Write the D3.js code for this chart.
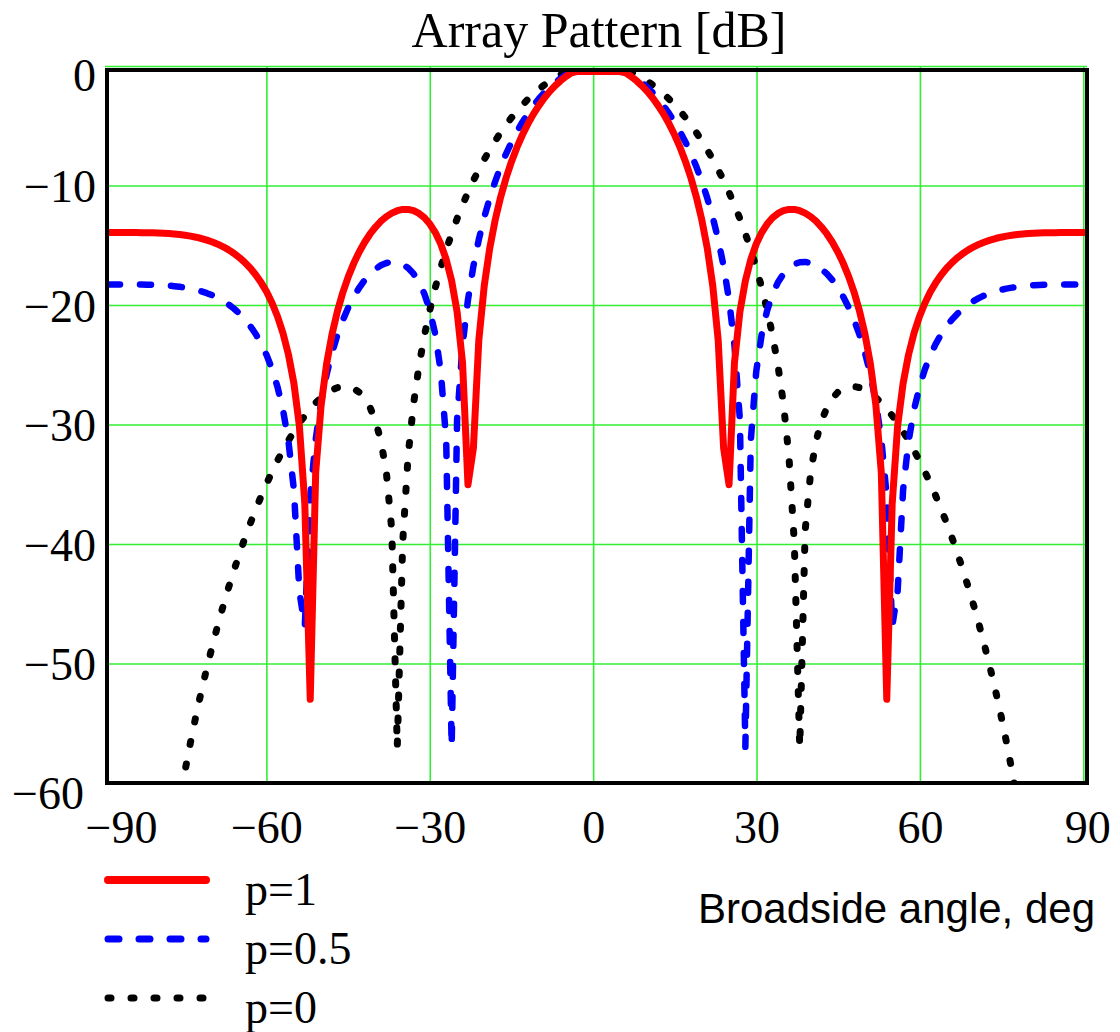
<!DOCTYPE html>
<html><head><meta charset="utf-8">
<script src="https://cdn.jsdelivr.net/npm/d3@7"></script>
<style>html,body{margin:0;padding:0;background:#fff}</style>
</head><body>
<svg id="chart" width="1120" height="1032" xmlns="http://www.w3.org/2000/svg"></svg>
<script>
// Broadside angle, degrees
const angles = [
 -90,-89,-88,-87,-86,-85,-84,-83,-82,-81,
 -80,-79,-78,-77,-76,-75,-74,-73,-72,-71,
 -70,-69,-68,-67,-66,-65,-64,-63,-62,-61,
 -60,-59,-58,-57,-56,-55,-54,-53,-52,-51,
 -50,-49,-48,-47,-46,-45,-44,-43,-42,-41,
 -40,-39,-38,-37,-36,-35,-34,-33,-32,-31,
 -30,-29,-28,-27,-26,-25,-24,-23,-22,-21,
 -20,-19,-18,-17,-16,-15,-14,-13,-12,-11,
 -10,-9,-8,-7,-6,-5,-4,-3,-2,-1,
 0,1,2,3,4,5,6,7,8,9,
 10,11,12,13,14,15,16,17,18,19,
 20,21,22,23,24,25,26,27,28,29,
 30,31,32,33,34,35,36,37,38,39,
 40,41,42,43,44,45,46,47,48,49,
 50,51,52,53,54,55,56,57,58,59,
 60,61,62,63,64,65,66,67,68,69,
 70,71,72,73,74,75,76,77,78,79,
 80,81,82,83,84,85,86,87,88,89,90
];

// p = 1 (dB)
const patternP1 = [
 -13.98,-13.98,-13.98,-13.98,-13.98,-13.98,-13.99,-13.99,-14.00,-14.02,
 -14.04,-14.07,-14.10,-14.15,-14.21,-14.28,-14.37,-14.48,-14.61,-14.77,
 -14.95,-15.17,-15.43,-15.73,-16.08,-16.49,-16.96,-17.52,-18.18,-18.95,
 -19.88,-21.01,-22.40,-24.18,-26.58,-30.11,-36.59,-52.93,-34.03,-28.40,
 -24.96,-22.48,-20.55,-18.97,-17.66,-16.55,-15.60,-14.79,-14.10,-13.52,
 -13.03,-12.65,-12.36,-12.16,-12.05,-12.05,-12.16,-12.39,-12.75,-13.27,
 -13.98,-14.94,-16.23,-18.01,-20.59,-24.83,-35.02,-31.95,-22.93,-18.39,
 -15.30,-12.94,-11.03,-9.43,-8.07,-6.88,-5.84,-4.93,-4.12,-3.41,
 -2.77,-2.22,-1.74,-1.32,-0.96,-0.66,-0.42,-0.24,-0.10,-0.03,
 0,-0.03,-0.10,-0.24,-0.42,-0.66,-0.96,-1.32,-1.74,-2.22,
 -2.77,-3.41,-4.12,-4.93,-5.84,-6.88,-8.07,-9.43,-11.03,-12.94,
 -15.30,-18.39,-22.93,-31.95,-35.02,-24.83,-20.59,-18.01,-16.23,-14.94,
 -13.98,-13.27,-12.75,-12.39,-12.16,-12.05,-12.05,-12.16,-12.36,-12.65,
 -13.03,-13.52,-14.10,-14.79,-15.60,-16.55,-17.66,-18.97,-20.55,-22.48,
 -24.96,-28.40,-34.03,-52.93,-36.59,-30.11,-26.58,-24.18,-22.40,-21.01,
 -19.88,-18.95,-18.18,-17.52,-16.96,-16.49,-16.08,-15.73,-15.43,-15.17,
 -14.95,-14.77,-14.61,-14.48,-14.37,-14.28,-14.21,-14.15,-14.10,-14.07,
 -14.04,-14.02,-14.00,-13.99,-13.99,-13.98,-13.98,-13.98,-13.98,-13.98,-13.98
];

// p = 0.5 (dB)
const patternP05 = [
 -18.31,-18.31,-18.31,-18.31,-18.32,-18.32,-18.32,-18.33,-18.34,-18.36,
 -18.38,-18.41,-18.46,-18.51,-18.58,-18.66,-18.76,-18.89,-19.04,-19.22,
 -19.43,-19.69,-19.99,-20.34,-20.75,-21.23,-21.80,-22.47,-23.27,-24.23,
 -25.41,-26.89,-28.80,-31.42,-35.47,-43.92,-46.86,-36.02,-31.25,-28.14,
 -25.84,-24.02,-22.53,-21.29,-20.23,-19.34,-18.59,-17.95,-17.43,-17.02,
 -16.71,-16.52,-16.43,-16.46,-16.62,-16.94,-17.42,-18.13,-19.12,-20.50,
 -22.49,-25.57,-31.33,-56.90,-29.63,-23.41,-19.59,-16.78,-14.55,-12.70,
 -11.11,-9.73,-8.50,-7.41,-6.44,-5.56,-4.77,-4.06,-3.42,-2.84,
 -2.33,-1.87,-1.47,-1.12,-0.82,-0.56,-0.36,-0.20,-0.09,-0.02,
 0,-0.02,-0.09,-0.20,-0.36,-0.56,-0.82,-1.12,-1.47,-1.87,
 -2.33,-2.84,-3.42,-4.06,-4.77,-5.56,-6.44,-7.41,-8.50,-9.73,
 -11.11,-12.70,-14.55,-16.78,-19.59,-23.41,-29.63,-56.90,-31.33,-25.57,
 -22.49,-20.50,-19.12,-18.13,-17.42,-16.94,-16.62,-16.46,-16.43,-16.52,
 -16.71,-17.02,-17.43,-17.95,-18.59,-19.34,-20.23,-21.29,-22.53,-24.02,
 -25.84,-28.14,-31.25,-36.02,-46.86,-43.92,-35.47,-31.42,-28.80,-26.89,
 -25.41,-24.23,-23.27,-22.47,-21.80,-21.23,-20.75,-20.34,-19.99,-19.69,
 -19.43,-19.22,-19.04,-18.89,-18.76,-18.66,-18.58,-18.51,-18.46,-18.41,
 -18.38,-18.36,-18.34,-18.33,-18.32,-18.32,-18.32,-18.31,-18.31,-18.31,-18.31
];

// p = 0 (dB); values below -60 lie off the chart
const patternP0 = [
 -160.0,-145.0,-125.0,-112.0,-102.0,-94.60,-88.10,-82.80,-78.20,-74.10,
 -70.45,-67.15,-64.15,-61.40,-58.85,-56.49,-54.28,-52.22,-50.29,-48.48,
 -46.75,-45.12,-43.59,-42.14,-40.76,-39.46,-38.22,-37.06,-35.95,-34.91,
 -33.93,-33.00,-32.14,-31.33,-30.58,-29.89,-29.26,-28.69,-28.19,-27.76,
 -27.40,-27.12,-26.92,-26.83,-26.85,-27.00,-27.31,-27.81,-28.58,-29.71,
 -31.38,-34.02,-38.84,-56.95,-39.82,-32.57,-28.26,-25.10,-22.56,-20.42,
 -18.56,-16.91,-15.42,-14.07,-12.83,-11.68,-10.62,-9.64,-8.73,-7.87,
 -7.08,-6.34,-5.64,-5.00,-4.40,-3.85,-3.34,-2.86,-2.43,-2.03,
 -1.68,-1.35,-1.07,-0.81,-0.60,-0.41,-0.26,-0.15,-0.07,-0.02,
 0,-0.02,-0.07,-0.15,-0.26,-0.41,-0.60,-0.81,-1.07,-1.35,
 -1.68,-2.03,-2.43,-2.86,-3.34,-3.85,-4.40,-5.00,-5.64,-6.34,
 -7.08,-7.87,-8.73,-9.64,-10.62,-11.68,-12.83,-14.07,-15.42,-16.91,
 -18.56,-20.42,-22.56,-25.10,-28.26,-32.57,-39.82,-56.95,-38.84,-34.02,
 -31.38,-29.71,-28.58,-27.81,-27.31,-27.00,-26.85,-26.83,-26.92,-27.12,
 -27.40,-27.76,-28.19,-28.69,-29.26,-29.89,-30.58,-31.33,-32.14,-33.00,
 -33.93,-34.91,-35.95,-37.06,-38.22,-39.46,-40.76,-42.14,-43.59,-45.12,
 -46.75,-48.48,-50.29,-52.22,-54.28,-56.49,-58.85,-61.40,-64.15,-67.15,
 -70.45,-74.10,-78.20,-82.80,-88.10,-94.60,-102.0,-112.0,-125.0,-145.0,-160.0
];

const seriesLabels = ["p=1", "p=0.5", "p=0"];
const xTickValues = [-90, -60, -30, 0, 30, 60, 90];
const yTickValues = [0, -10, -20, -30, -40, -50, -60];
const titleText = "Array Pattern [dB]";
const xAxisTitle = "Broadside angle, deg";

// ---------- layout ----------
const svg = d3.select("#chart");
const F = {left: 107, right: 1087, top: 70, bottom: 783};
const xGrid = d3.scaleLinear().domain([-90, 90]).range([103, 1083.3]);
const yGrid = d3.scaleLinear().domain([-60, 0]).range([783, 66]);
const xData = d3.scaleLinear().domain([-90, 90]).range([109, 1088]);
const yData = d3.scaleLinear().domain([-60, 0]).range([784, 65]);
const fmt = d => d < 0 ? "\u2212" + Math.abs(d) : String(d);
const SERIF = "'Liberation Serif','Times New Roman',serif";
const SANS = "'Liberation Sans',Arial,sans-serif";
const GRID = "#33ee33";

svg.append("rect").attr("width", 1120).attr("height", 1032).attr("fill", "#fff");

// grid + tick labels via axes
const xAxis = d3.axisBottom(xGrid).tickValues(xTickValues)
  .tickSize(-(F.bottom - 66)).tickFormat(fmt);
const gx = svg.append("g").attr("transform", `translate(0,${F.bottom})`).call(xAxis);
gx.select(".domain").remove();
gx.selectAll(".tick line").attr("stroke", GRID).attr("stroke-width", 1.6)
  .attr("display", d => d === -90 ? "none" : null);
gx.selectAll(".tick text")
  .attr("y", 60).attr("dy", null)
  .attr("dx", d => d === -90 ? 18 : (d === 90 ? 4 : 0))
  .attr("fill", "#000").attr("font-family", SERIF).attr("font-size", 46);

const yAxis = d3.axisLeft(yGrid).tickValues(yTickValues)
  .tickSize(-(F.right - 105)).tickFormat(fmt);
const gy = svg.append("g").attr("transform", `translate(105,0)`).call(yAxis);
gy.select(".domain").remove();
gy.selectAll(".tick line").attr("stroke", GRID).attr("stroke-width", 1.6)
  .attr("display", d => d === -60 ? "none" : null);
gy.selectAll(".tick text")
  .attr("x", d => d === -60 ? -21 : -9).attr("dy", null)
  .attr("y", d => d === 0 ? 24 : (d === -60 ? 25 : 16))
  .attr("fill", "#000").attr("font-family", SERIF).attr("font-size", 46);
svg.selectAll(".tick").attr("font-family", null);

// clip
svg.append("clipPath").attr("id", "plotClip").append("rect")
  .attr("x", F.left).attr("y", F.top - 2)
  .attr("width", F.right - F.left).attr("height", F.bottom - F.top + 2);

const topLimit = F.top + 1.5;
const lineGen = d3.line()
  .x((d, i) => xData(angles[i]))
  .y(v => Math.max(yData(v), topLimit));

const styles = [
  {data: patternP1,  color: "#ff0000", width: 7, dash: null},
  {data: patternP05, color: "#0000ff", width: 6.5, dash: "11 20"},
  {data: patternP0,  color: "#000000", width: 7, dash: "3 20"}
];

const plot = svg.append("g").attr("clip-path", "url(#plotClip)");
styles.slice().reverse().forEach(s => {
  plot.append("path").datum(s.data)
    .attr("d", lineGen)
    .attr("fill", "none")
    .attr("stroke", s.color)
    .attr("stroke-width", s.width)
    .attr("stroke-linejoin", "round")
    .attr("stroke-linecap", "round")
    .attr("stroke-dasharray", s.dash);
});

// frame
svg.append("rect").attr("x", F.left).attr("y", F.top)
  .attr("width", F.right - F.left).attr("height", F.bottom - F.top)
  .attr("fill", "none").attr("stroke", "#000").attr("stroke-width", 4);

// title
svg.append("text").attr("x", 599).attr("y", 47).attr("text-anchor", "middle")
  .attr("font-family", SERIF).attr("font-size", 50).attr("fill", "#000")
  .text(titleText);

// x axis title
svg.append("text").attr("x", 1095).attr("y", 923).attr("text-anchor", "end")
  .attr("font-family", SANS).attr("font-size", 42).attr("fill", "#000")
  .text(xAxisTitle);

// legend
const legendRows = [880, 939, 998];
const legend = svg.append("g");
styles.forEach((s, i) => {
  const yy = legendRows[i];
  legend.append("path")
    .attr("d", d3.line()([[108, yy], [206, yy]]))
    .attr("stroke", s.color)
    .attr("stroke-width", i === 0 ? 8 : 7)
    .attr("stroke-linecap", "round")
    .attr("stroke-dasharray", s.dash)
    .attr("fill", "none");
  legend.append("text").attr("x", 245).attr("y", yy + 25)
    .attr("font-family", SERIF).attr("font-size", 46).attr("fill", "#000")
    .text(seriesLabels[i]);
});
</script>
</body></html>
